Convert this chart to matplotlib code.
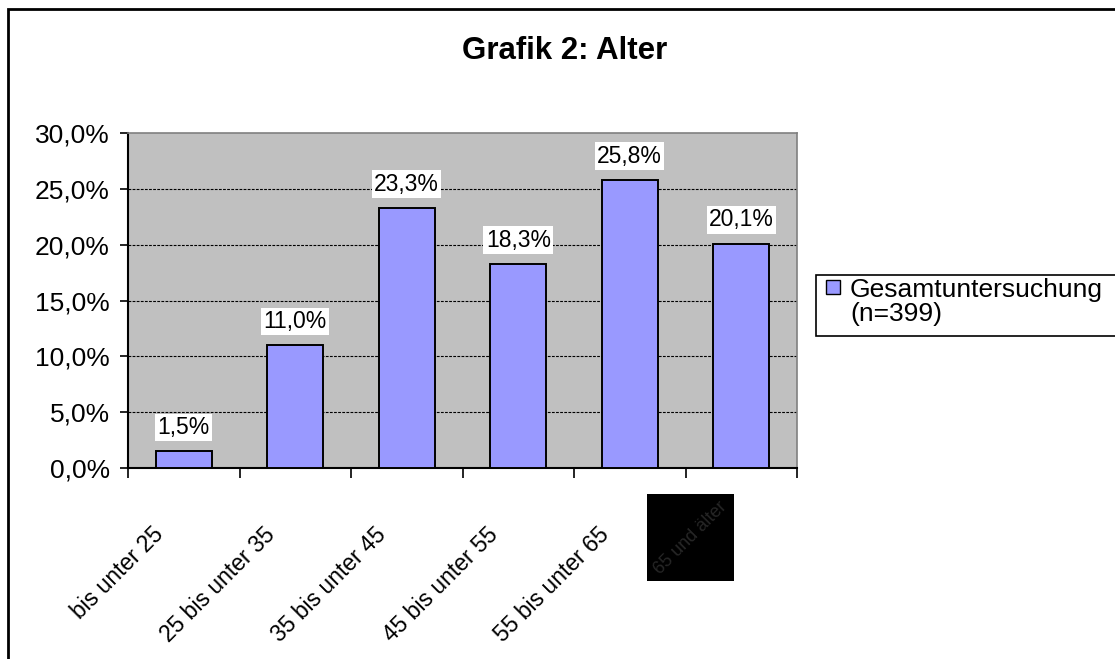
import matplotlib
matplotlib.use("Agg")
import matplotlib.pyplot as plt
import matplotlib.transforms as mtransforms
from matplotlib.patches import Rectangle
from matplotlib.ticker import FixedLocator, FuncFormatter

plt.rcParams['font.family'] = ['Liberation Sans', 'DejaVu Sans']

categories = ["bis unter 25", "25 bis unter 35", "35 bis unter 45",
              "45 bis unter 55", "55 bis unter 65", "65 und älter"]
values = [1.5, 11.0, 23.3, 18.3, 25.8, 20.1]
series_name = "Gesamtuntersuchung\n(n=399)"
title = "Grafik 2: Alter"
yticks = [0, 5, 10, 15, 20, 25, 30]

BAR_COLOR = "#9999FF"
W, H, DPI = 1115, 659, 100
fig = plt.figure(figsize=(W / DPI, H / DPI), dpi=DPI)
fig.patch.set_facecolor("white")

def px(xp, yp):
    """pixel (from top-left) -> figure fraction"""
    return xp / W, 1 - yp / H

# outer chart frame
fig.add_artist(Rectangle((8 / W, -0.5), 2.0, 1.5 - 9 / H, transform=fig.transFigure,
                         fill=False, edgecolor="black", linewidth=2.0))

ax = fig.add_axes([128 / W, 1 - 468 / H, (797 - 128) / W, (468 - 133) / H])
ax.set_facecolor("#C0C0C0")

x = list(range(len(categories)))
bars = ax.bar(x, values, width=0.5, color=BAR_COLOR, edgecolor="black",
              linewidth=1.4, label=series_name, zorder=3)

ax.set_xlim(-0.5, len(categories) - 0.5)
ax.set_ylim(0, 30)
ax.set_yticks(yticks)
ax.yaxis.set_major_formatter(FuncFormatter(lambda v, p: f"{v:.1f}".replace(".", ",") + "%"))
ax.tick_params(axis="y", direction="out", length=6, width=1.2, pad=7,
               labelsize=19, colors="black")

for yv in yticks[1:-1]:
    ax.axhline(yv, color="black", linewidth=0.8, linestyle=(0, (2.5, 1.2)), zorder=1)

for s in ["top", "right"]:
    ax.spines[s].set_color("#808080")
    ax.spines[s].set_linewidth(1.2)
for s in ["left", "bottom"]:
    ax.spines[s].set_color("black")
    ax.spines[s].set_linewidth(1.5)

# x ticks: marks at category boundaries, labels at centers
ax.set_xticks(x)
ax.xaxis.set_minor_locator(FixedLocator([i - 0.5 for i in range(len(categories) + 1)]))
ax.tick_params(axis="x", which="minor", direction="out", length=7.5, width=1.2, colors="black")
ax.tick_params(axis="x", which="major", length=0, pad=0)
ax.set_xticklabels(categories[:-1] + [""], fontsize=16.5, rotation=45,
                   ha="right", va="top", rotation_mode="anchor")
offset = mtransforms.ScaledTranslation(-32 / DPI, -55 / DPI, fig.dpi_scale_trans)
for lab in ax.get_xticklabels():
    lab.set_transform(lab.get_transform() + offset)

# last category label rendered as a dark image-like box
blend = mtransforms.blended_transform_factory(ax.transData, ax.transAxes)
off6 = mtransforms.ScaledTranslation(-23 / DPI, -30 / DPI, fig.dpi_scale_trans)
t6 = ax.text(x[-1], 0, categories[-1], transform=blend + off6, fontsize=13,
             rotation=45, ha="right", va="top", rotation_mode="anchor",
             color="#262626", zorder=7, clip_on=False)

# data labels
for xi, v in zip(x, values):
    ax.annotate(f"{v:.1f}".replace(".", ",") + "%", (xi, v), xytext=(0, 17),
                textcoords="offset points", ha="center", va="center", fontsize=16.5,
                bbox=dict(boxstyle="square,pad=0.1", facecolor="white", edgecolor="none"),
                zorder=5)

ax.set_title(title, fontsize=22.5, fontweight="bold", x=(565 - 128) / (797 - 128),
             y=1 + (133 - 51) / (468 - 133), va="center", pad=0)

# legend (drawn as a box that runs past the right edge, like the reference)
fig.add_artist(Rectangle(px(816, 336), (1140 - 816) / W, (336 - 275) / H,
                         transform=fig.transFigure, facecolor="white",
                         edgecolor="black", linewidth=1.2))
fig.add_artist(Rectangle(px(826, 294), 14 / W, 14 / H, transform=fig.transFigure,
                         facecolor=BAR_COLOR, edgecolor="black", linewidth=1.0))
fig.text(*px(850, 278), series_name, fontsize=19, ha="left", va="top",
         linespacing=1.0)

fig.canvas.draw()
r = fig.canvas.get_renderer()
bb = t6.get_window_extent(r)
pad = 4
ax.add_artist(Rectangle((bb.x0 - pad, bb.y0 - pad), bb.width + 2 * pad, bb.height + 2 * pad,
                        transform=None, facecolor="black", edgecolor="none",
                        zorder=6, clip_on=False))

fig.savefig("out.png", dpi=DPI)
